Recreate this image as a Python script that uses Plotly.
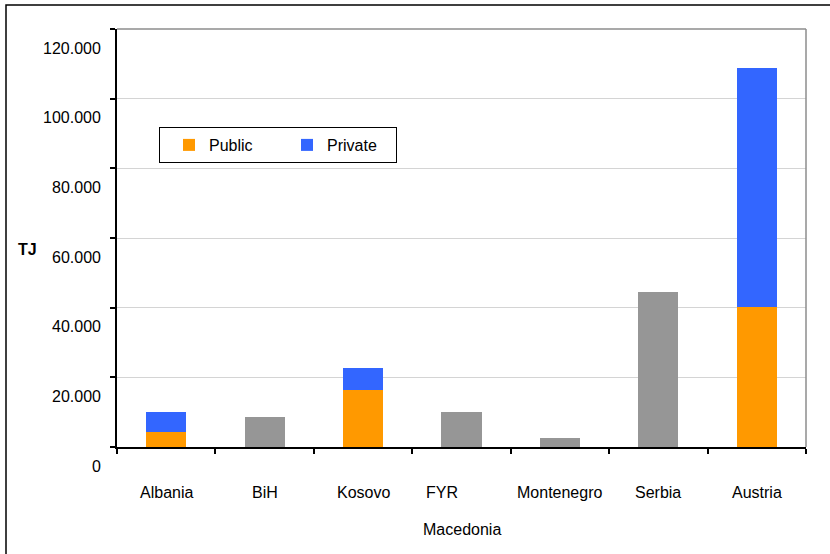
import plotly.graph_objects as go

countries = ["Albania", "BiH", "Kosovo", "FYR Macedonia", "Montenegro", "Serbia", "Austria"]
public_tj = [4300, None, 16400, None, None, None, 40200]
private_tj = [5700, None, 6300, None, None, None, 68600]
total_only_tj = [None, 8600, None, 10000, 2600, 44500, None]
y_tick_vals = [0, 20000, 40000, 60000, 80000, 100000, 120000]
y_tick_text = ["0", "20.000", "40.000", "60.000", "80.000", "100.000", "120.000"]

W, H = 830, 554
L, R, T, B = 117, 24, 29, 107
PW, PH = W - L - R, H - T - B
FONT = "Liberation Sans, Arial, sans-serif"


def px_x(px):
    return (px - L) / PW


def px_y(py):
    return (H - B - py) / PH


fig = go.Figure()
fig.add_trace(go.Bar(x=countries, y=public_tj, name="Public", marker_color="#FF9900",
                     marker_line_width=0))
fig.add_trace(go.Bar(x=countries, y=private_tj, name="Private", marker_color="#3366FF",
                     marker_line_width=0))
fig.add_trace(go.Bar(x=countries, y=total_only_tj, name="Total", marker_color="#969696",
                     marker_line_width=0, showlegend=False))

annotations = []
# y tick labels (drawn slightly below their gridlines, as in the reference)
for v, t in zip(y_tick_vals, y_tick_text):
    annotations.append(dict(x=0, xref="paper", y=v, yref="y", text=t, showarrow=False,
                            xanchor="right", yanchor="middle", xshift=-14, yshift=-19,
                            font=dict(family=FONT, size=16, color="#000")))
# category labels
for c in countries:
    if c == "FYR Macedonia":
        annotations.append(dict(x=c, xref="x", y=0, yref="y", text="FYR", showarrow=False,
                                xanchor="left", yanchor="middle", xshift=-38, yshift=-45,
                                font=dict(family=FONT, size=16, color="#000")))
        annotations.append(dict(x=c, xref="x", y=0, yref="y", text="Macedonia", showarrow=False,
                                xanchor="center", yanchor="middle", yshift=-82,
                                font=dict(family=FONT, size=16, color="#000")))
    else:
        annotations.append(dict(x=c, xref="x", y=0, yref="y", text=c, showarrow=False,
                                xanchor="center", yanchor="middle", yshift=-45,
                                font=dict(family=FONT, size=16, color="#000")))
annotations.append(dict(x=px_x(28), xref="paper", y=px_y(249), yref="paper", text="<b>TJ</b>",
                        showarrow=False, xanchor="center", yanchor="middle",
                        font=dict(family=FONT, size=16, color="#000")))

shapes = [
    # plot area top and right border
    dict(type="line", xref="paper", yref="paper", x0=0, x1=1, y0=1, y1=1,
         line=dict(color="#8c8c8c", width=1.5)),
    dict(type="line", xref="paper", yref="paper", x0=1, x1=1, y0=0, y1=1,
         line=dict(color="#8c8c8c", width=1.5)),
    # outer chart border
    dict(type="rect", xref="paper", yref="paper", x0=px_x(6), x1=px_x(W + 10),
         y0=px_y(H + 10), y1=px_y(5), line=dict(color="#000", width=1.5), layer="below"),
]

fig.update_layout(
    width=W, height=H,
    margin=dict(l=L, r=R, t=T, b=B, pad=0),
    barmode="stack",
    bargap=0.593,
    plot_bgcolor="#FFFFFF",
    paper_bgcolor="#FFFFFF",
    font=dict(family=FONT, size=16, color="#000"),
    showlegend=True,
    legend=dict(orientation="h", x=px_x(159), y=px_y(127), xanchor="left", yanchor="top",
                bordercolor="#000", borderwidth=1, bgcolor="#FFFFFF",
                font=dict(family=FONT, size=16, color="#000"), indentation=9,
                entrywidth=64, entrywidthmode="pixels", itemclick=False, traceorder="normal"),
    annotations=annotations,
    shapes=shapes,
    xaxis=dict(type="category", showticklabels=False, ticks="outside", ticklen=5,
               tickcolor="#000", tickwidth=1.5, tickson="boundaries", showline=True,
               linecolor="#000", linewidth=1.5, showgrid=False, zeroline=False,
               range=[-0.5, 6.5]),
    yaxis=dict(range=[0, 120000], tickvals=y_tick_vals, showticklabels=False,
               ticks="outside", ticklen=5, tickcolor="#000", tickwidth=1.5,
               showline=True, linecolor="#000", linewidth=1.5, showgrid=True,
               gridcolor="#D4D4D4", gridwidth=1, zeroline=False),
)

fig.write_html("out.html", config={"displayModeBar": False},
               post_script="document.body.style.margin='0';document.body.style.overflow='hidden';")
